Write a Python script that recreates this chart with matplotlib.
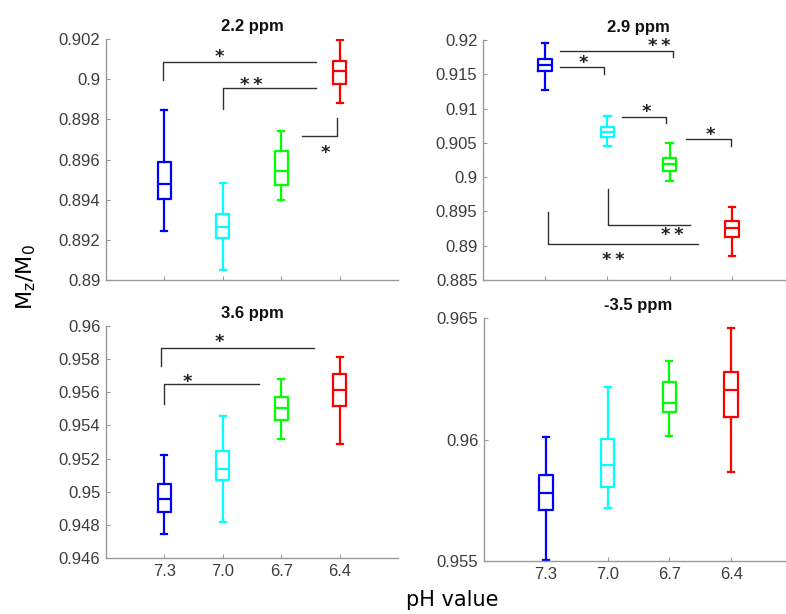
import matplotlib
matplotlib.use("Agg")
import matplotlib.pyplot as plt

# pH groups and box colours
ph_labels = ["7.3", "7.0", "6.7", "6.4"]
group_colors = ["#0000ff", "#00ffff", "#00ff00", "#ff0000"]

# five-number summaries per group: [whisker low, q1, median, q3, whisker high]
stats_22 = [[0.89244, 0.89404, 0.89477, 0.89590, 0.89848],
            [0.89050, 0.89211, 0.89266, 0.89327, 0.89485],
            [0.89399, 0.89474, 0.89544, 0.89643, 0.89740],
            [0.89881, 0.89977, 0.90042, 0.90092, 0.90197]]
stats_29 = [[0.91266, 0.91541, 0.91638, 0.91725, 0.91952],
            [0.90454, 0.90589, 0.90657, 0.90730, 0.90889],
            [0.89947, 0.90092, 0.90198, 0.90275, 0.90502],
            [0.88850, 0.89121, 0.89256, 0.89357, 0.89560]]
stats_36 = [[0.94745, 0.94877, 0.94958, 0.95046, 0.95223],
            [0.94817, 0.95068, 0.95136, 0.95247, 0.95458],
            [0.95317, 0.95434, 0.95504, 0.95574, 0.95681],
            [0.95287, 0.95518, 0.95614, 0.95711, 0.95815]]
stats_m35 = [[0.95505, 0.95709, 0.95778, 0.95854, 0.96012],
             [0.95720, 0.95803, 0.95895, 0.96002, 0.96214],
             [0.96016, 0.96115, 0.96149, 0.96236, 0.96324],
             [0.95867, 0.96094, 0.96204, 0.96276, 0.96459]]

# significance brackets: (x points, y points) in data units
brackets_22 = [([0.98, 0.98, 3.60], [0.89997, 0.90085, 0.90085]),
               ([2.01, 2.01, 3.60], [0.89851, 0.89956, 0.89956]),
               ([3.36, 3.95, 3.95], [0.89715, 0.89715, 0.89806])]
stars_22 = [(1.94, 0.90128, "*"), (2.48, 0.89990, "**"), (3.75, 0.89650, "*")]

brackets_29 = [([1.24, 3.06, 3.06], [0.91845, 0.91845, 0.91749]),
               ([1.24, 1.95, 1.95], [0.91604, 0.91604, 0.91507]),
               ([2.24, 2.95, 2.95], [0.90879, 0.90879, 0.90783]),
               ([3.27, 3.98, 3.98], [0.90551, 0.90551, 0.90454]),
               ([2.01, 2.01, 3.33], [0.89826, 0.89309, 0.89309]),
               ([1.04, 1.04, 3.46], [0.89488, 0.89029, 0.89029])]
stars_29 = [(2.83, 0.91960, "**"), (1.62, 0.91710, "*"), (2.63, 0.91000, "*"),
            (3.65, 0.90660, "*"), (3.04, 0.89210, "**"), (2.09, 0.88850, "**")]

brackets_36 = [([0.95, 0.95, 3.57], [0.95759, 0.95865, 0.95865]),
               ([1.00, 1.00, 2.62], [0.95530, 0.95650, 0.95650])]
stars_36 = [(1.94, 0.95926, "*"), (1.39, 0.95685, "*")]

panels = [
    dict(title="2.2 ppm", stats=stats_22, ylim=(0.89, 0.902), step=0.002,
         brackets=brackets_22, stars=stars_22, xlabels=False,
         rect=(106, 39, 292, 241)),
    dict(title="2.9 ppm", stats=stats_29, ylim=(0.885, 0.92), step=0.005,
         brackets=brackets_29, stars=stars_29, xlabels=False,
         rect=(483, 40, 311, 240)),
    dict(title="3.6 ppm", stats=stats_36, ylim=(0.946, 0.96), step=0.002,
         brackets=brackets_36, stars=stars_36, xlabels=True,
         rect=(106, 326, 292, 232)),
    dict(title="-3.5 ppm", stats=stats_m35, ylim=(0.955, 0.965), step=0.005,
         brackets=[], stars=[], xlabels=True,
         rect=(484, 318, 309, 243)),
]

W, H = 786, 614
fig = plt.figure(figsize=(W / 100, H / 100), dpi=100)
fig.patch.set_facecolor("white")

SPINE = "#9a9a9a"
TICKTXT = "#3c3c3c"
tick_font = dict(family="Liberation Sans", size=12)

positions = [1, 2, 3, 4]

for p in panels:
    l, t, w, h = p["rect"]
    ax = fig.add_axes([l / W, 1 - (t + h) / H, w / W, h / H])
    bstats = [dict(whislo=s[0], q1=s[1], med=s[2], q3=s[3], whishi=s[4], fliers=[])
              for s in p["stats"]]
    art = ax.bxp(bstats, positions=positions, widths=0.22, capwidths=0.1,
                 showfliers=False, patch_artist=False)
    for i, c in enumerate(group_colors):
        art["boxes"][i].set(color=c, linewidth=1.6)
        art["medians"][i].set(color=c, linewidth=1.6)
        for k in (2 * i, 2 * i + 1):
            art["whiskers"][k].set(color=c, linewidth=1.6, linestyle="-")
            art["caps"][k].set(color=c, linewidth=1.6)

    for xs, ys in p["brackets"]:
        ax.plot(xs, ys, color="#303030", linewidth=1.0, clip_on=False)
    for x, y, s in p["stars"]:
        # asterisks sit high in the glyph box, so nudge them down a little
        ax.annotate(s.replace("**", "*\u2009*"), (x, y), xytext=(0, -3.5),
                    textcoords="offset pixels", ha="center", va="center",
                    fontsize=13, fontweight="bold", family="DejaVu Sans",
                    color="#202020")

    ax.set_xlim(0, 5)
    lo, hi = p["ylim"]
    ax.set_ylim(lo, hi)
    n = int(round((hi - lo) / p["step"]))
    ticks = [lo + i * p["step"] for i in range(n + 1)]
    ax.set_yticks(ticks)
    ax.set_yticklabels([f"{v:g}" for v in [round(tv, 4) for tv in ticks]], **tick_font)
    ax.set_xticks(positions)
    if p["xlabels"]:
        ax.set_xticklabels(ph_labels, **tick_font)
    else:
        ax.set_xticklabels([])
    ax.tick_params(direction="in", length=3, color=SPINE, labelcolor=TICKTXT,
                   width=0.8, pad=4)
    for side in ("top", "right"):
        ax.spines[side].set_visible(False)
    for side in ("left", "bottom"):
        ax.spines[side].set_color(SPINE)
        ax.spines[side].set_linewidth(1.0)
    ax.set_title(p["title"], fontsize=12, fontweight="bold",
                 family="Liberation Sans", color="#111111", pad=6)

fig.text(26 / W, 1 - 277 / H, r"M$_\mathregular{z}$/M$_\mathregular{0}$",
         rotation=90, ha="center", va="center", fontsize=16, family="DejaVu Sans")
fig.text(452 / W, 1 - 600 / H, "pH value", ha="center", va="center",
         fontsize=15, family="DejaVu Sans")

fig.savefig("out.png", dpi=100, facecolor="white")
